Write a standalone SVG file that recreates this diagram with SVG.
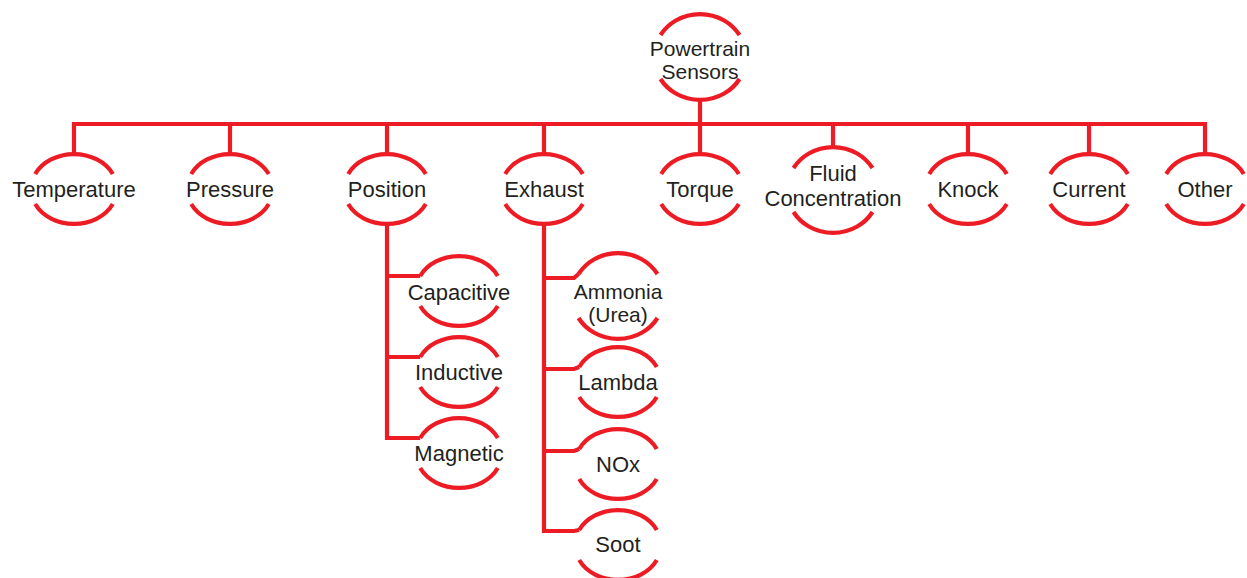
<svg xmlns="http://www.w3.org/2000/svg" xmlns:xlink="http://www.w3.org/1999/xlink" width="1247" height="578" viewBox="0 0 1247 578">
<style>
.arc{fill:none;stroke:#ed1c24;stroke-width:4.2}
.ln{fill:none;stroke:#ed1c24;stroke-width:4.2;stroke-linejoin:miter;stroke-linecap:butt}
.t{font-family:"Liberation Sans",Arial,sans-serif;font-size:22px;fill:#231f20;text-anchor:middle}
.t2{font-size:21px}
</style>
<defs>
<path id="n1" class="arc" d="M-38.8,-15 A43 35 0 0 1 38.8,-15 M-38.8,15 A43 35 0 0 0 38.8,15"/>
<path id="n2" class="arc" d="M-39.5,-22 A46 43 0 0 1 39.5,-22 M-39.5,22 A46 43 0 0 0 39.5,22"/>
</defs>
<rect width="1247" height="578" fill="#ffffff"/>
<g id="connectors">
<path class="ln" d="M700,100 V124"/>
<path class="ln" d="M74,154 V124 H1205 V154"/>
<path class="ln" d="M230,124 V154 M387,124 V154 M544,124 V154 M700,124 V154 M833,124 V147 M968,124 V154 M1089,124 V154"/>
<path class="ln" d="M387,224 V438 H420.2 M387,276 H420.2 M387,357 H420.2"/>
<path class="ln" d="M544,224 V531 H574 L579.2,530 M544,278 H574 L578.5,274 M544,369 H574 L579.2,367 M544,451 H574 L579.2,449"/>
</g>
<g id="powertrain"><use xlink:href="#n2" x="700" y="57"/><text class="t t2" x="700" y="56">Powertrain</text><text class="t t2" x="700" y="79">Sensors</text></g>
<g id="temperature"><use xlink:href="#n1" x="74" y="189"/><text class="t" x="74" y="197">Temperature</text></g>
<g id="pressure"><use xlink:href="#n1" x="230" y="189"/><text class="t" x="230" y="197">Pressure</text></g>
<g id="position"><use xlink:href="#n1" x="387" y="189"/><text class="t" x="387" y="197">Position</text></g>
<g id="exhaust"><use xlink:href="#n1" x="544" y="189"/><text class="t" x="544" y="197">Exhaust</text></g>
<g id="torque"><use xlink:href="#n1" x="700" y="189"/><text class="t" x="700" y="197">Torque</text></g>
<g id="fluid"><use xlink:href="#n2" x="833" y="190"/><text class="t" x="833" y="181">Fluid</text><text class="t" x="833" y="206">Concentration</text></g>
<g id="knock"><use xlink:href="#n1" x="968" y="189"/><text class="t" x="968" y="197">Knock</text></g>
<g id="current"><use xlink:href="#n1" x="1089" y="189"/><text class="t" x="1089" y="197">Current</text></g>
<g id="other"><use xlink:href="#n1" x="1205" y="189"/><text class="t" x="1205" y="197">Other</text></g>
<g id="capacitive"><use xlink:href="#n1" x="459" y="291"/><text class="t" x="459" y="300">Capacitive</text></g>
<g id="inductive"><use xlink:href="#n1" x="459" y="372"/><text class="t" x="459" y="380">Inductive</text></g>
<g id="magnetic"><use xlink:href="#n1" x="459" y="453"/><text class="t" x="459" y="461">Magnetic</text></g>
<g id="ammonia"><use xlink:href="#n2" x="618" y="296"/><text class="t t2" x="618" y="299">Ammonia</text><text class="t t2" x="618" y="322">(Urea)</text></g>
<g id="lambda"><use xlink:href="#n1" x="618" y="382"/><text class="t" x="618" y="390">Lambda</text></g>
<g id="nox"><use xlink:href="#n1" x="618" y="464"/><text class="t" x="618" y="472">NOx</text></g>
<g id="soot"><use xlink:href="#n1" x="618" y="545"/><text class="t" x="618" y="552">Soot</text></g>
</svg>
